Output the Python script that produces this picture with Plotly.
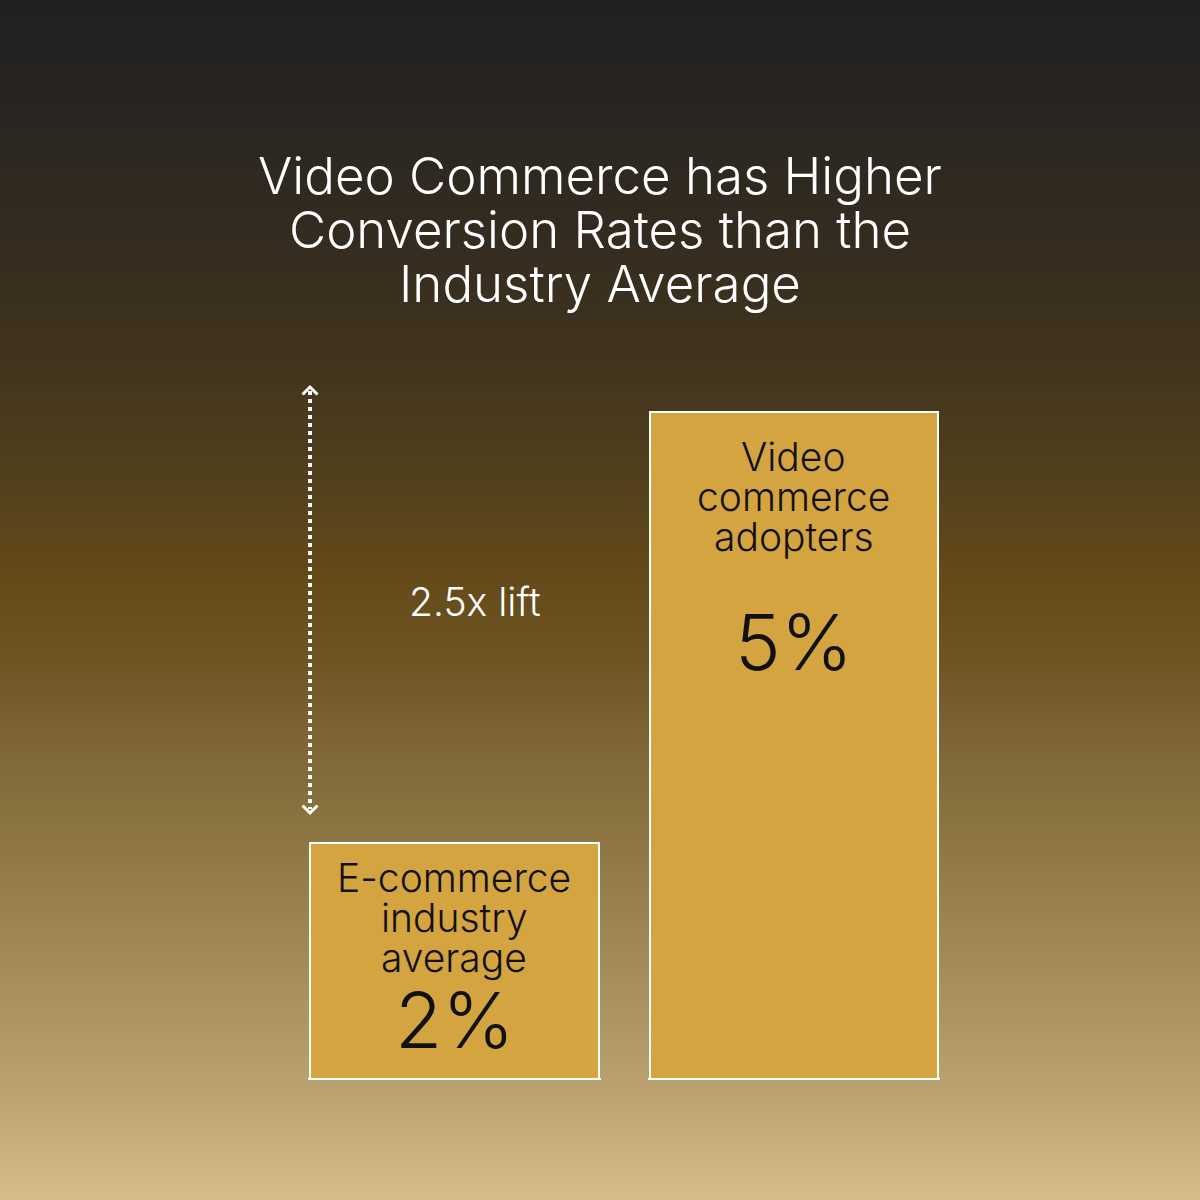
import plotly.graph_objects as go

# ---- data ----
categories = ["E-commerce industry average", "Video commerce adopters"]
values = [2, 5]
label_lines = [["E-commerce", "industry", "average"], ["Video", "commerce", "adopters"]]
value_labels = ["2%", "5%"]
title_lines = ["Video Commerce has Higher", "Conversion Rates than the", "Industry Average"]
lift_label = "2.5x lift"

# ---- style ----
W = H = 1200
BAR_COLOR = "#D4A440"
FONT = "Inter"
DESC = 0.241  # font descent (em)
grad_pos = [0.00, 0.10, 0.20, 0.30, 0.40, 0.48, 0.55, 0.62, 0.70, 0.80, 0.90, 1.00]
grad_col = ["#212022", "#292621", "#352c20", "#41341e", "#52401d", "#654a19",
            "#6f5424", "#7e6636", "#8d7644", "#a28b57", "#b9a16e", "#d4bd8a"]


def py(p):
    """pixel row -> paper y"""
    return 1 - p / H


def px(p):
    return p / W


def line_text(text, cx, baseline, size, box_h, color):
    """single text line whose box is box_h tall and whose baseline sits at `baseline`"""
    bottom = baseline + DESC * size
    return dict(text=text, x=px(cx), y=py(bottom - box_h / 2), xref="paper", yref="paper",
                showarrow=False, xanchor="center", yanchor="middle", valign="bottom",
                height=box_h, borderpad=0,
                font=dict(family=FONT, size=size, color=color, weight=300))


fig = go.Figure()

# background gradient
fig.add_trace(go.Heatmap(
    x=[0, 1], y=grad_pos, z=[[v, v] for v in grad_pos],
    colorscale=[[p, c] for p, c in zip(grad_pos, grad_col)],
    zmin=0, zmax=1, zsmooth="best", showscale=False, hoverinfo="skip",
    xaxis="x", yaxis="y"))

# bars, each on its own x axis so the white axis line closes the bottom edge
x_domains = [[px(308), px(601)], [px(648), px(940)]]
axis_names = ["x2", "x3"]
for i, (cat, val) in enumerate(zip(categories, values)):
    fig.add_trace(go.Bar(
        x=[cat], y=[val], width=1,
        marker=dict(color=BAR_COLOR, line=dict(color="white", width=2)),
        xaxis=axis_names[i], yaxis="y2", hoverinfo="skip", showlegend=False))

hidden = dict(visible=False, fixedrange=True)
fig.update_layout(
    width=W, height=H,
    margin=dict(l=0, r=0, t=0, b=0),
    paper_bgcolor="#212022", plot_bgcolor="rgba(0,0,0,0)",
    showlegend=False,
    xaxis=dict(domain=[0, 1], range=[0, 1], **hidden),
    yaxis=dict(domain=[0, 1], range=[1, 0], **hidden),
    yaxis2=dict(domain=[py(1078), 1], range=[0.364, 7.868], visible=False,
                fixedrange=True, anchor="x2"),
)
for i, name in enumerate(axis_names):
    fig.layout["xaxis" + name[1:]] = dict(
        domain=x_domains[i], range=[-0.507, 0.507], anchor="y2",
        showline=True, linecolor="white", linewidth=2,
        showticklabels=False, ticks="", showgrid=False, zeroline=False,
        fixedrange=True)

annotations = []
# title
for line, b in zip(title_lines, [193, 247, 301]):
    annotations.append(line_text(line, 600, b, 51, 53.5, "white"))

# bar labels
bar_cx = [454.5, 793.5]
label_baselines = [[891, 931, 971], [470, 510, 550]]
value_baselines = [1048, 670]
for i in range(2):
    for line, b in zip(label_lines[i], label_baselines[i]):
        annotations.append(line_text(line, bar_cx[i], b, 39, 39.5, "#111111"))
    annotations.append(line_text(value_labels[i], bar_cx[i], value_baselines[i], 77, 80, "#111111"))

annotations.append(line_text(lift_label, 475, 616, 39, 50, "white"))
fig.update_layout(annotations=annotations)

# dotted double arrow
shapes = [
    dict(type="line", xref="paper", yref="paper", x0=px(310), x1=px(310),
         y0=py(391), y1=py(809), line=dict(color="white", width=4, dash="4px,4px")),
    dict(type="path", xref="paper", yref="paper",
         path=f"M {px(302.5)},{py(394.5)} L {px(310)},{py(387)} L {px(317.5)},{py(394.5)}",
         line=dict(color="white", width=3)),
    dict(type="path", xref="paper", yref="paper",
         path=f"M {px(302.5)},{py(805.5)} L {px(310)},{py(813)} L {px(317.5)},{py(805.5)}",
         line=dict(color="white", width=3)),
]
fig.update_layout(shapes=shapes)

fig.write_html(
    "out.html",
    config={"displayModeBar": False},
    post_script="document.body.style.margin='0';document.body.style.background='#212022';",
)
